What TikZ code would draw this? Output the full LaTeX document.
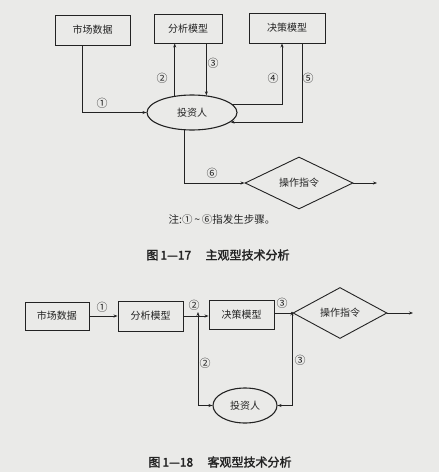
\documentclass[tikz,border=0pt]{standalone}
\usepackage{fontspec}
\newfontfamily\cjk{Noto Sans CJK SC}
\newfontfamily\cjkbold[FakeBold=2]{Noto Sans CJK SC}
\usetikzlibrary{arrows.meta,shapes.geometric}
\definecolor{bg}{RGB}{234,234,232}
\definecolor{ink}{RGB}{35,35,35}
\tikzset{
  every node/.style={font=\cjk\fontsize{10}{11}\selectfont, text=ink},
  box/.style={draw=ink, line width=0.9pt, inner sep=0pt},
  ell/.style={ellipse, draw=ink, line width=1.1pt, inner sep=0pt},
  dia/.style={diamond, aspect=2, draw=ink, line width=0.9pt, inner sep=0pt},
  arr/.style={draw=ink, line width=0.8pt, -{Stealth[length=4pt,width=3pt]}},
  biarr/.style={draw=ink, line width=0.8pt, {Stealth[length=4pt,width=3pt]}-{Stealth[length=4pt,width=3pt]}},
  plain/.style={draw=ink, line width=0.8pt},
  lbl/.style={font=\cjk\fontsize{11}{12}\selectfont, inner sep=0pt},
  captxt/.style={font=\cjkbold\fontsize{12}{13}\selectfont, inner sep=0pt}
}
\begin{document}
\begin{tikzpicture}[x=1pt,y=-1pt]
\fill[bg] (0,0) rectangle (439,472);
\useasboundingbox (0,0) rectangle (439,472);

% ---------- Figure 1-17 ----------
\node[box, minimum width=75pt, minimum height=30pt] (md1) at (92.5,30) {市场数据};
\node[box, minimum width=68pt, minimum height=29pt] (am1) at (188,28.5) {分析模型};
\node[box, minimum width=76pt, minimum height=30pt] (dm1) at (287,28) {决策模型};
\node[ell, minimum width=90pt, minimum height=35pt] (inv1) at (192,112.5) {投资人};
\node[dia, minimum width=108pt, minimum height=52pt] (op1) at (299,183) {操作指令};
\coordinate (out1) at (377,183);

\draw[arr] ([xshift=-10pt]md1.south) |- (inv1.west);
\draw[arr] (inv1.136) -- (inv1.136 |- am1.south);
\draw[arr] (am1.south -| inv1.50) -- (inv1.50);
\draw[arr] (inv1.12) -| ([xshift=-5pt]dm1.south);
\draw[arr] ([xshift=15pt]dm1.south) |- (inv1.-14);
\draw[arr] (inv1.248) |- (op1.west);
\draw[arr] (op1.east) -- (out1);

\node[lbl] (l1a) at (102,103) {①};
\node[lbl] (l1b) at (162,78) {②};
\node[lbl] (l1c) at (213,63) {③};
\node[lbl] (l1d) at (273,78) {④};
\node[lbl] (l1e) at (308,78) {⑤};
\node[lbl] (l1f) at (212,173) {⑥};

\node[font=\cjk\fontsize{10.5}{11}\selectfont, inner sep=0pt] (note) at (222,220) {注:①\,\textasciitilde\,⑥指发生步骤。};
\node[captxt] (cap1) at (218,255) {图\,1—17\hspace{1.2em}主观型技术分析};

% ---------- Figure 1-18 ----------
\node[box, minimum width=64pt, minimum height=28pt] (md2) at (57,316) {市场数据};
\node[box, minimum width=65pt, minimum height=30pt] (am2) at (150.5,316) {分析模型};
\node[box, minimum width=65pt, minimum height=29pt] (dm2) at (241.5,314.5) {决策模型};
\node[dia, minimum width=94pt, minimum height=51pt] (op2) at (340,313) {操作指令};
\node[ell, minimum width=64pt, minimum height=35pt] (inv2) at (245,405.5) {投资人};
\coordinate (j2) at (198,316);
\coordinate (j3) at (292,313);
\coordinate (out2) at (413,313);

\draw[arr] (md2.east |- am2.west) -- (am2.west);
\draw[arr] (am2.east) -- (am2.east -| dm2.west);
\draw[plain] (dm2.east |- op2.west) -- (op2.west);
\fill[ink] (j3) circle (1.2pt);
\draw[arr] (op2.east) -- (out2);
\draw[biarr] (inv2.west) -| ([yshift=4pt]j2);
\draw[biarr] (inv2.east) -| ([yshift=1.5pt]j3);

\node[lbl] (l2a) at (102,307) {①};
\node[lbl] (l2b) at (194,305) {②};
\node[lbl] (l2c) at (282,303) {③};
\node[lbl] (l2d) at (205,363) {②};
\node[lbl] (l2e) at (300,360) {③};

\node[captxt] (cap2) at (220,462) {图\,1—18\hspace{1.2em}客观型技术分析};
\end{tikzpicture}
\end{document}
